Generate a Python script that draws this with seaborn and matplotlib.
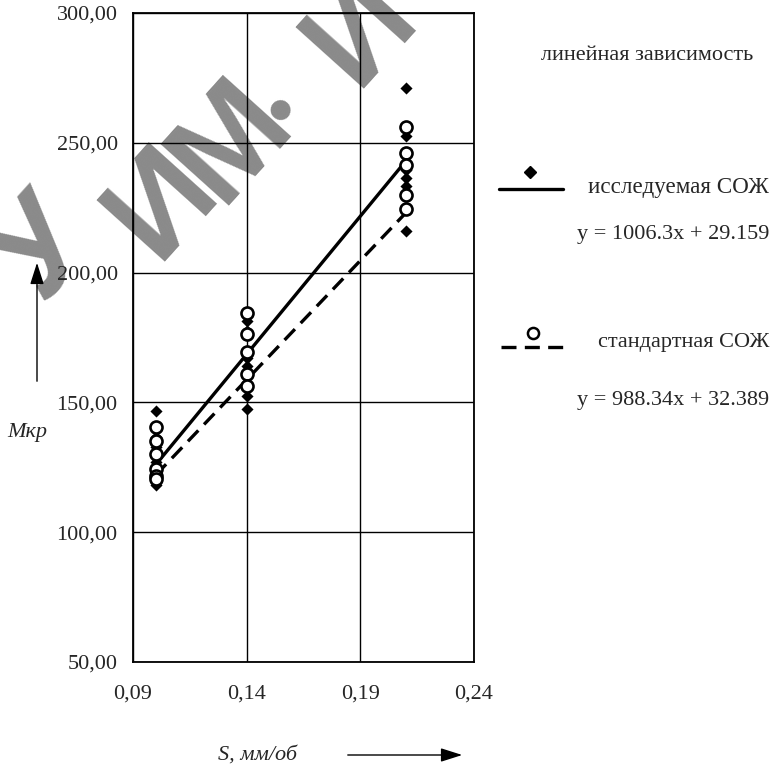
import numpy as np
import pandas as pd
import matplotlib
matplotlib.use("Agg")
import matplotlib.pyplot as plt
import seaborn as sns

# ---------------- data ----------------
s_values = [0.10, 0.14, 0.21]
issl_010 = [146.5, 136.5, 133.0, 127.0, 122.0, 118.0]
issl_014 = [181.5, 177.5, 167.0, 164.0, 152.5, 147.5]
issl_021 = [271.0, 252.5, 239.5, 236.5, 233.5, 216.0]
std_010 = [140.5, 135.0, 130.0, 124.5, 121.5, 120.5]
std_014 = [184.5, 176.5, 169.5, 161.0, 156.5]
std_021 = [256.0, 246.0, 241.5, 230.0, 224.5]
trend_x = [0.10, 0.21]
trend_issl = [126.0, 243.0]
trend_std = [122.0, 223.0]
x_ticks = [0.09, 0.14, 0.19, 0.24]
x_tick_labels = ["0,09", "0,14", "0,19", "0,24"]
y_ticks = [50, 100, 150, 200, 250, 300]
y_tick_labels = ["50,00", "100,00", "150,00", "200,00", "250,00", "300,00"]
eq_issl = "y = 1006.3x + 29.159"
eq_std = "y = 988.34x + 32.389"
watermark_letters = ["У", "И", "М", "•", "И"]

def build(groups):
    rows = []
    for s, vals in zip(s_values, groups):
        for v in vals:
            rows.append((s, v))
    return pd.DataFrame(rows, columns=["S", "M"])

df_issl = build([issl_010, issl_014, issl_021])
df_std = build([std_010, std_014, std_021])
df_tr_issl = pd.DataFrame({"S": trend_x, "M": trend_issl})
df_tr_std = pd.DataFrame({"S": trend_x, "M": trend_std})

sns.set_theme(style="white")
plt.rcParams["font.family"] = ["Liberation Serif", "DejaVu Serif"]
FS = 16

W, H = 776, 764
fig = plt.figure(figsize=(W / 100, H / 100), dpi=100)
fig.patch.set_facecolor("white")

# ------------- background overlay (watermark, captions) in pixel coords -------------
ov = fig.add_axes([0, 0, 1, 1], facecolor="none", zorder=0)
ov.set_xlim(0, W)
ov.set_ylim(H, 0)
ov.axis("off")

wm_pos = [(45, 252), (163, 203), (232, 142), (284, 112), (362, 30)]
wm_size = [96, 96, 96, 50, 96]
for ch, (px, py), fs in zip(watermark_letters, wm_pos, wm_size):
    ov.text(px, py, ch, fontsize=fs, color="#8a8a8a", rotation=48,
            rotation_mode="anchor", ha="center", va="center", weight="bold",
            family=["Liberation Sans", "DejaVu Sans"], clip_on=True)

ax = fig.add_axes([133 / W, 1 - 662 / H, (474 - 133) / W, (662 - 13) / H], zorder=1)
ax.set_facecolor("none")

sns.lineplot(data=df_tr_issl, x="S", y="M", ax=ax, color="black", lw=2.4, zorder=3)
sns.lineplot(data=df_tr_std, x="S", y="M", ax=ax, color="black", lw=2.4,
             linestyle=(0, (4.5, 2.5)), zorder=3)
sns.scatterplot(data=df_issl, x="S", y="M", ax=ax, marker="D", s=38,
                color="black", edgecolor="black", linewidth=0, zorder=4)
sns.scatterplot(data=df_std, x="S", y="M", ax=ax, marker="o", s=75,
                facecolor="white", edgecolor="black", linewidth=1.9, zorder=5)

ax.set_xlim(0.09, 0.24)
ax.set_ylim(50, 300)
ax.set_xticks(x_ticks)
ax.set_xticklabels(x_tick_labels, fontsize=FS)
ax.set_yticks(y_ticks)
ax.set_yticklabels(y_tick_labels, fontsize=FS)
ax.tick_params(axis="x", length=0, pad=16)
ax.tick_params(axis="y", length=0, pad=11)
ax.grid(True, color="black", lw=1.0)
for sp in ax.spines.values():
    sp.set_color("black")
    sp.set_linewidth(1.3)
ax.set_xlabel("")
ax.set_ylabel("")

# axis captions and arrows
ov.text(258, 755, "S, мм/об", fontsize=FS, style="italic", ha="center", va="center")
ov.annotate("", xy=(465, 755), xytext=(345, 755),
            arrowprops=dict(arrowstyle="-|>,head_length=1.1,head_width=0.35",
                            color="black", lw=1.0))
ov.text(27, 432, "Мкр", fontsize=FS, style="italic", ha="center", va="center")
ov.annotate("", xy=(37, 260), xytext=(37, 384),
            arrowprops=dict(arrowstyle="-|>,head_length=1.1,head_width=0.35",
                            color="black", lw=1.0))

# legend block
ov.text(647, 56, "линейная зависимость", fontsize=FS, ha="center", va="center")
ov.plot([499, 563], [189, 189], color="black", lw=2.4)
ov.plot([530], [172], marker="D", ms=6, color="black", ls="none")
ov.text(769, 187, "исследуемая СОЖ", fontsize=16.6, ha="right", va="center")
ov.text(769, 235, eq_issl, fontsize=FS, ha="right", va="center")
ov.plot([501, 566], [347, 347], color="black", lw=2.4, linestyle=(0, (4.5, 2.5)))
ov.plot([533], [333], marker="o", ms=8, mfc="white", mec="black", mew=1.8, ls="none")
ov.text(769, 343, "стандартная СОЖ", fontsize=FS, ha="right", va="center")
ov.text(769, 400, eq_std, fontsize=FS, ha="right", va="center")

fig.savefig("out.png", dpi=100, facecolor="white")
